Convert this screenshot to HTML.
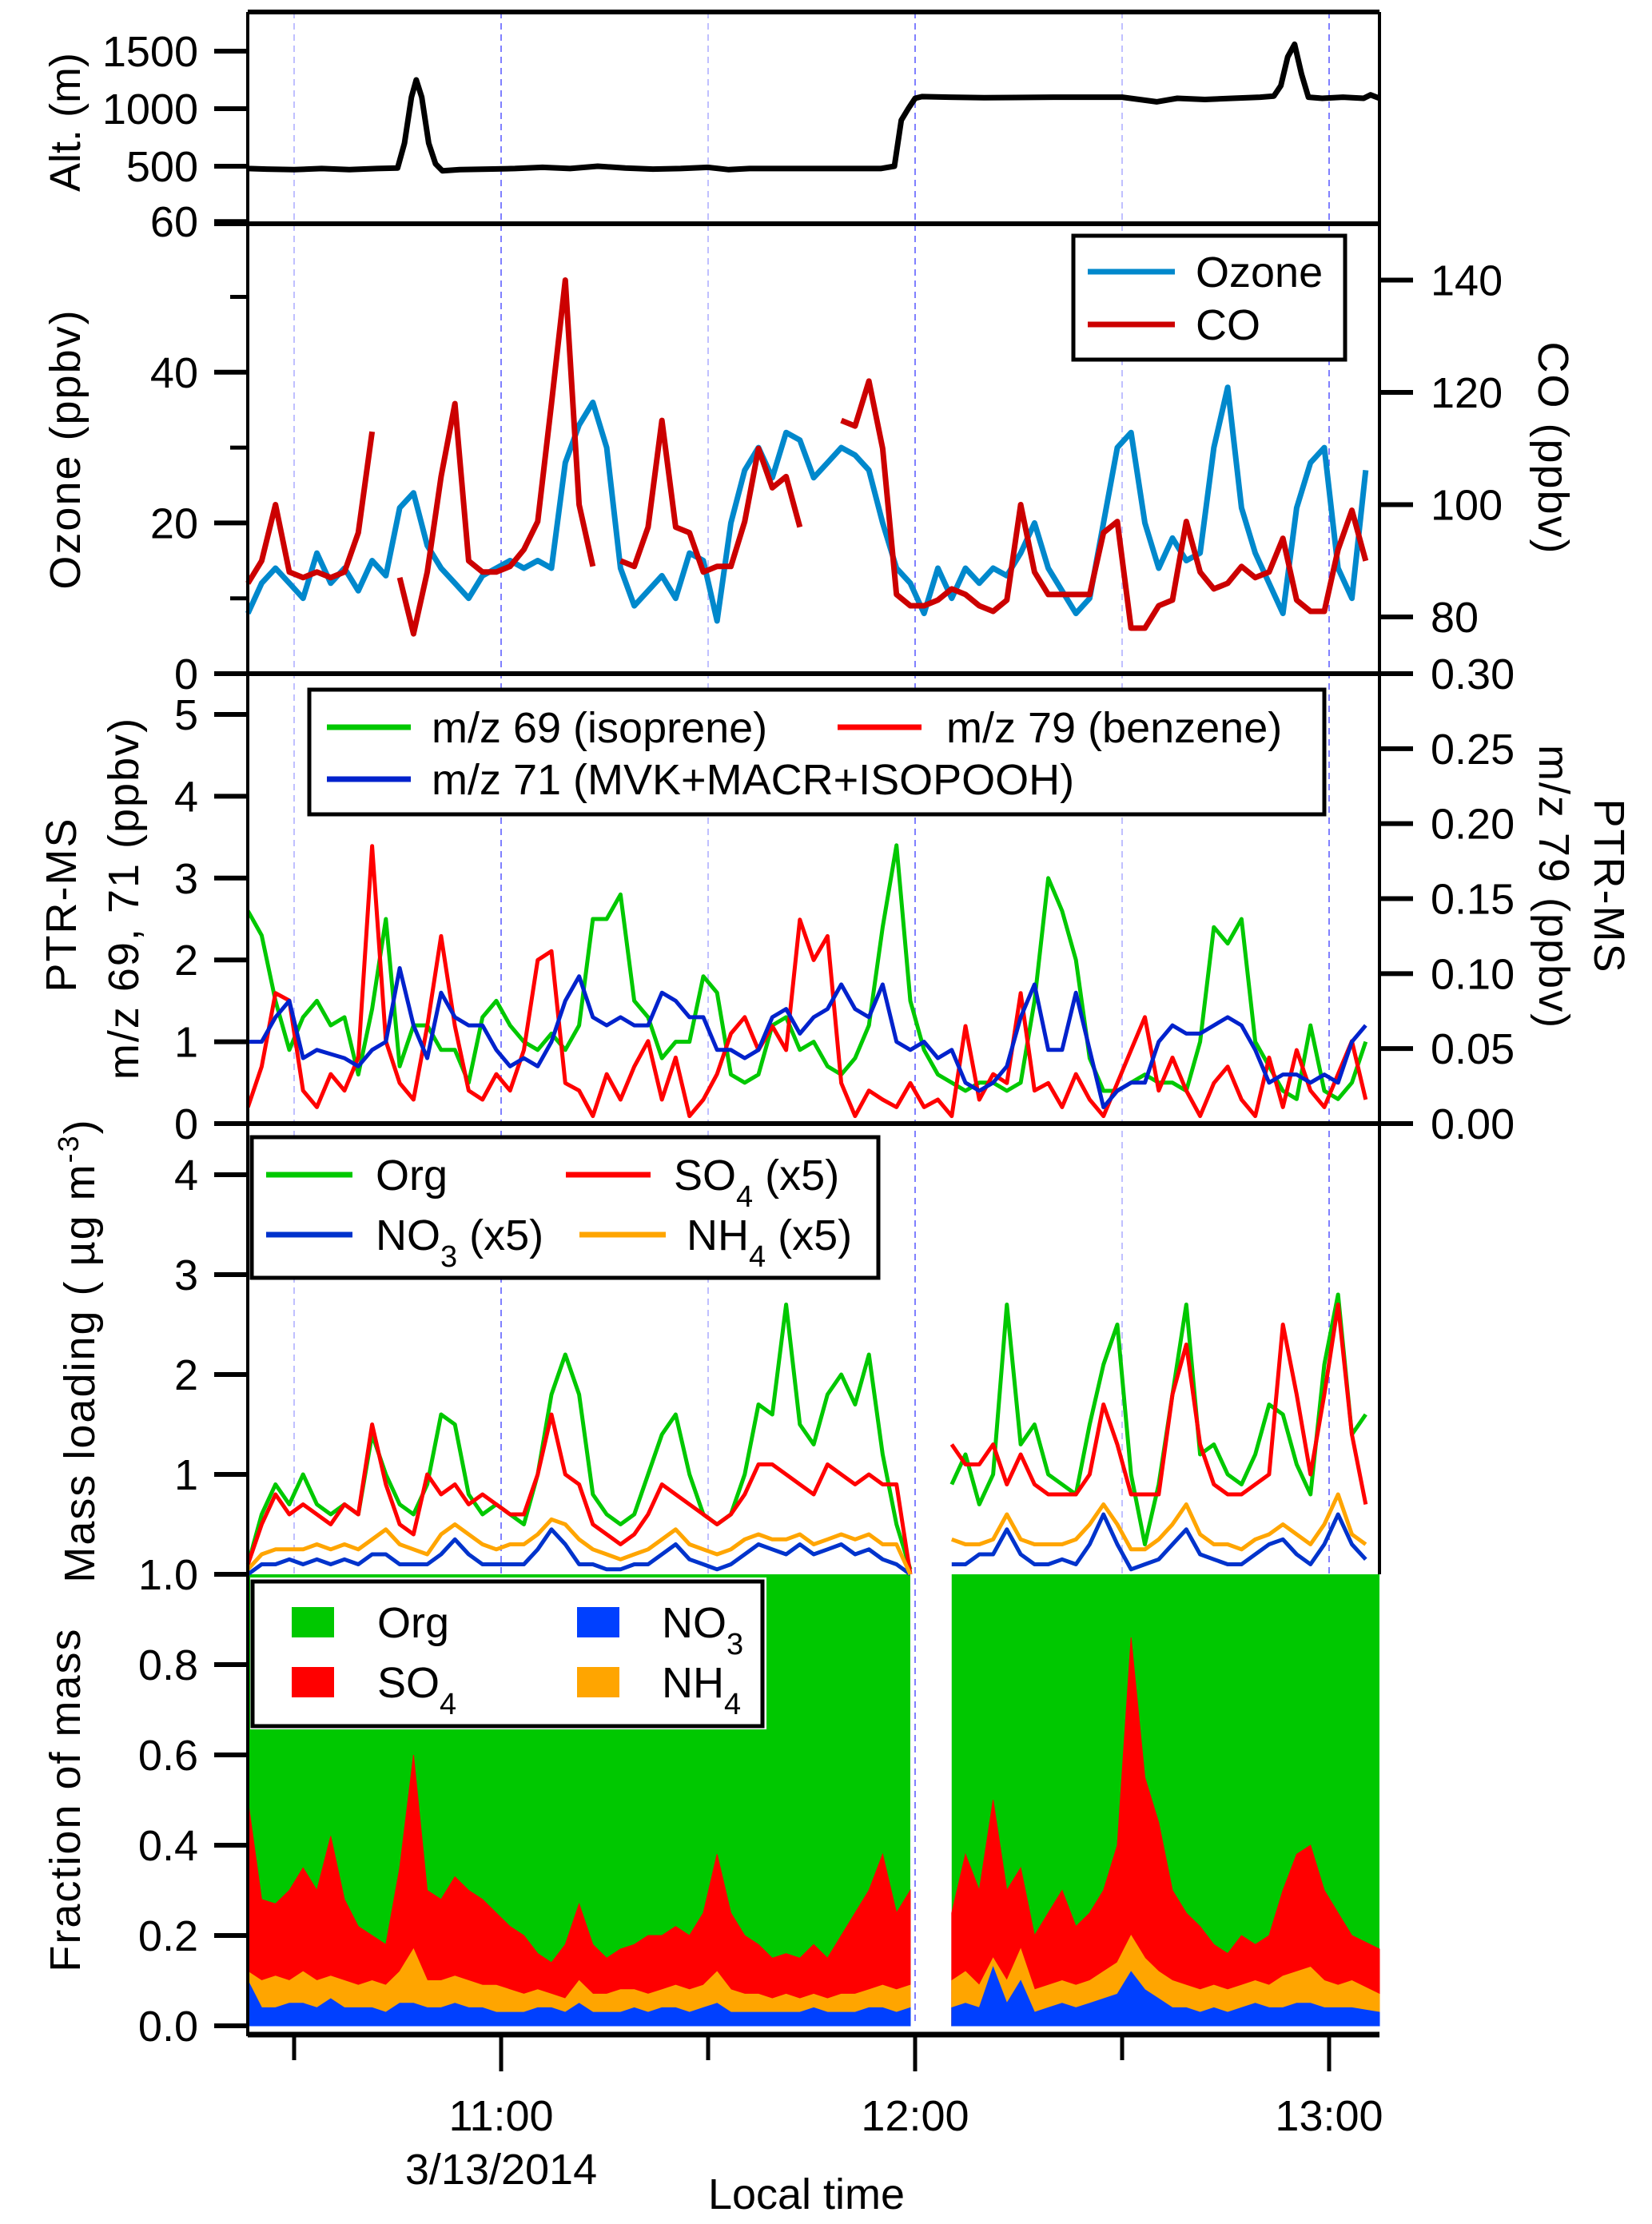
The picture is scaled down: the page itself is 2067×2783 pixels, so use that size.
<!DOCTYPE html>
<html><head><meta charset="utf-8"><style>
html,body{margin:0;padding:0;background:#fff;}
svg{display:block;font-family:"Liberation Sans",Arial,sans-serif;}
</style></head><body>
<svg id="chart" width="2067" height="2783" viewBox="0 0 2067 2783" xmlns="http://www.w3.org/2000/svg">
<rect x="0" y="0" width="2067" height="2783" fill="#fff"/>
<g id="grid"></g>
<g id="marks"></g>
<g id="axes"></g>
<g id="titles" font-size="54" fill="#000">
  <text transform="translate(100,153) rotate(-90)" text-anchor="middle">Alt. (m)</text>
  <text transform="translate(100,562) rotate(-90)" text-anchor="middle" letter-spacing="2">Ozone (ppbv)</text>
  <text transform="translate(1925,561) rotate(90)" text-anchor="middle" letter-spacing="2">CO (ppbv)</text>
  <text transform="translate(95,1132) rotate(-90)" text-anchor="middle" letter-spacing="2">PTR-MS</text>
  <text transform="translate(173,1124) rotate(-90)" text-anchor="middle" letter-spacing="2">m/z 69, 71 (ppbv)</text>
  <text transform="translate(1995,1109) rotate(90)" text-anchor="middle" letter-spacing="2">PTR-MS</text>
  <text transform="translate(1926,1110) rotate(90)" text-anchor="middle" letter-spacing="2">m/z 79 (ppbv)</text>
  <text transform="translate(118,1690) rotate(-90)" text-anchor="middle" letter-spacing="2">Mass loading ( µg m<tspan baseline-shift="super" font-size="36">-3</tspan>)</text>
  <text transform="translate(100,2252) rotate(-90)" text-anchor="middle" letter-spacing="2">Fraction of mass</text>
  <text x="627" y="2733" text-anchor="middle">3/13/2014</text>
  <text x="1009" y="2764" text-anchor="middle">Local time</text>
</g>
<g id="legends" font-size="54" fill="#000">
  <g>
    <rect x="1343" y="295" width="340" height="155" fill="#fff" stroke="#000" stroke-width="5"/>
    <line x1="1361" y1="340" x2="1470" y2="340" stroke="#0088cc" stroke-width="7"/>
    <text x="1496" y="359">Ozone</text>
    <line x1="1361" y1="406" x2="1470" y2="406" stroke="#cc0000" stroke-width="7"/>
    <text x="1496" y="425">CO</text>
  </g>
  <g>
    <rect x="387" y="863" width="1270" height="156" fill="#fff" stroke="#000" stroke-width="5"/>
    <line x1="409" y1="910" x2="514" y2="910" stroke="#00c800" stroke-width="7"/>
    <text x="540" y="929">m/z 69 (isoprene)</text>
    <line x1="1048" y1="910" x2="1153" y2="910" stroke="#ff0000" stroke-width="7"/>
    <text x="1184" y="929">m/z 79 (benzene)</text>
    <line x1="409" y1="975" x2="514" y2="975" stroke="#0022cc" stroke-width="7"/>
    <text x="540" y="994">m/z 71 (MVK+MACR+ISOPOOH)</text>
  </g>
  <g>
    <rect x="315" y="1423" width="784" height="176" fill="#fff" stroke="#000" stroke-width="5"/>
    <line x1="333" y1="1470" x2="441" y2="1470" stroke="#00c800" stroke-width="7"/>
    <text x="470" y="1489">Org</text>
    <line x1="708" y1="1470" x2="814" y2="1470" stroke="#ff0000" stroke-width="7"/>
    <text x="843" y="1489">SO<tspan baseline-shift="sub" font-size="38">4</tspan> (x5)</text>
    <line x1="333" y1="1545" x2="441" y2="1545" stroke="#0033cc" stroke-width="7"/>
    <text x="470" y="1564">NO<tspan baseline-shift="sub" font-size="38">3</tspan> (x5)</text>
    <line x1="725" y1="1545" x2="833" y2="1545" stroke="#ffa500" stroke-width="7"/>
    <text x="859" y="1564">NH<tspan baseline-shift="sub" font-size="38">4</tspan> (x5)</text>
  </g>
</g>
<g id="fraclegend" font-size="54" fill="#000">
  <g>
    <rect x="313" y="1974" width="646" height="190" fill="#fff"/>
    <rect x="316" y="1979" width="638" height="181" fill="#fff" stroke="#000" stroke-width="5"/>
    <rect x="365" y="2011" width="53" height="38" fill="#00c800"/>
    <text x="472" y="2049">Org</text>
    <rect x="722" y="2011" width="53" height="38" fill="#0040ff"/>
    <text x="828" y="2049">NO<tspan baseline-shift="sub" font-size="38">3</tspan></text>
    <rect x="365" y="2086" width="53" height="38" fill="#ff0000"/>
    <text x="472" y="2124">SO<tspan baseline-shift="sub" font-size="38">4</tspan></text>
    <rect x="722" y="2086" width="53" height="38" fill="#ffa500"/>
    <text x="828" y="2124">NH<tspan baseline-shift="sub" font-size="38">4</tspan></text>
  </g>
</g>
</svg>
<script>
// ---- data (minutes relative to 11:00 local time) ----
const altTimes = [-36.7,-34,-30,-26,-22,-18,-15,-14,-13,-12.3,-11.5,-10.5,-9.5,-8.5,-6,-2,2,6,10,14,18,22,26,30,33,36,40,45,50,55,57,58,59,60,61,65,70,80,90,95,98,102,106,110,112,113,114,115,116,117,119,122,125,126,127.3];
const altValues = [480,475,470,480,470,480,485,700,1100,1250,1100,700,520,460,470,475,480,490,480,500,485,475,480,490,470,480,480,480,480,480,500,900,1000,1090,1105,1100,1095,1100,1100,1060,1090,1080,1090,1100,1110,1200,1450,1560,1300,1100,1090,1100,1090,1120,1090];

const seriesStart = -36.7;
const seriesStep = 2;

const ozone = [8,12,14,12,10,16,12,14,11,15,13,22,24,17,14,12,10,13,14,15,14,15,14,28,33,36,30,14,9,11,13,10,16,15,7,20,27,30,26,32,31,26,28,30,29,27,20,14,12,8,14,10,14,12,14,13,16,20,14,11,8,10,20,30,32,20,14,18,15,16,30,38,22,16,12,8,22,28,30,14,10,27];
const co = [86,90,100,88,87,88,87,88,95,113,null,87,77,88,105,118,90,88,88,89,92,97,118,140,100,89,null,90,89,96,115,96,95,88,89,89,97,110,103,105,96,null,null,115,114,122,110,84,82,82,83,85,84,82,81,83,100,88,84,84,84,84,95,97,78,78,82,83,97,88,85,86,89,87,88,94,83,81,81,92,99,90];

const isoprene = [2.6,2.3,1.5,0.9,1.3,1.5,1.2,1.3,0.6,1.4,2.5,0.7,1.2,1.2,0.9,0.9,0.5,1.3,1.5,1.2,1.0,0.9,1.1,0.9,1.2,2.5,2.5,2.8,1.5,1.3,0.8,1.0,1.0,1.8,1.6,0.6,0.5,0.6,1.2,1.3,0.9,1.0,0.7,0.6,0.8,1.2,2.4,3.4,1.5,0.9,0.6,0.5,0.4,0.5,0.5,0.4,0.5,1.5,3.0,2.6,2.0,0.8,0.4,0.4,0.5,0.6,0.5,0.5,0.4,1.0,2.4,2.2,2.5,1.0,0.7,0.4,0.3,1.2,0.4,0.3,0.5,1.0];
const mvkMacr = [1.0,1.0,1.3,1.5,0.8,0.9,0.85,0.8,0.7,0.9,1.0,1.9,1.2,0.8,1.6,1.3,1.2,1.2,0.9,0.7,0.8,0.7,1.0,1.5,1.8,1.3,1.2,1.3,1.2,1.2,1.6,1.5,1.3,1.3,0.9,0.9,0.8,0.9,1.3,1.4,1.1,1.3,1.4,1.7,1.4,1.3,1.7,1.0,0.9,1.0,0.8,0.9,0.5,0.4,0.5,0.7,1.3,1.7,0.9,0.9,1.6,0.9,0.2,0.4,0.5,0.5,1.0,1.2,1.1,1.1,1.2,1.3,1.2,0.9,0.5,0.6,0.6,0.5,0.6,0.5,1.0,1.2];
const benzene = [0.011,0.038,0.087,0.082,0.022,0.011,0.033,0.022,0.044,0.185,0.055,0.027,0.016,0.065,0.125,0.065,0.022,0.016,0.033,0.022,0.049,0.109,0.115,0.027,0.022,0.005,0.033,0.016,0.038,0.055,0.016,0.044,0.005,0.016,0.033,0.060,0.071,0.049,0.065,0.049,0.136,0.109,0.125,0.027,0.005,0.022,0.016,0.011,0.027,0.011,0.016,0.005,0.065,0.016,0.033,0.027,0.087,0.022,0.027,0.011,0.033,0.016,0.005,0.027,0.049,0.071,0.022,0.044,0.022,0.005,0.027,0.038,0.016,0.005,0.044,0.011,0.049,0.022,0.011,0.033,0.055,0.016];

const orgMass = [0.1,0.6,0.9,0.7,1.0,0.7,0.6,0.7,0.6,1.4,1.0,0.7,0.6,0.9,1.6,1.5,0.8,0.6,0.7,0.6,0.5,1.0,1.8,2.2,1.8,0.8,0.6,0.5,0.6,1.0,1.4,1.6,1.0,0.6,0.5,0.6,1.0,1.7,1.6,2.7,1.5,1.3,1.8,2.0,1.7,2.2,1.2,0.5,0.05,null,null,0.9,1.2,0.7,1.0,2.7,1.3,1.5,1.0,0.9,0.8,1.5,2.1,2.5,1.0,0.3,0.9,1.8,2.7,1.2,1.3,1.0,0.9,1.2,1.7,1.6,1.1,0.8,2.1,2.8,1.4,1.6];
const so4Mass = [0.1,0.5,0.8,0.6,0.7,0.6,0.5,0.7,0.6,1.5,0.9,0.5,0.4,1.0,0.8,0.9,0.7,0.8,0.7,0.6,0.6,1.0,1.6,1.0,0.9,0.5,0.4,0.3,0.4,0.6,0.9,0.8,0.7,0.6,0.5,0.6,0.8,1.1,1.1,1.0,0.9,0.8,1.1,1.0,0.9,1.0,0.9,0.9,0.0,null,null,1.3,1.1,1.1,1.3,0.9,1.2,0.9,0.8,0.8,0.8,1.0,1.7,1.3,0.8,0.8,0.8,1.8,2.3,1.3,0.9,0.8,0.8,0.9,1.0,2.5,1.8,1.0,1.8,2.7,1.4,0.7];
const nh4Mass = [0.05,0.2,0.25,0.25,0.25,0.3,0.25,0.3,0.25,0.35,0.45,0.3,0.25,0.2,0.4,0.5,0.4,0.3,0.25,0.3,0.3,0.4,0.55,0.5,0.35,0.25,0.2,0.15,0.2,0.25,0.35,0.45,0.3,0.25,0.2,0.25,0.35,0.4,0.35,0.35,0.4,0.3,0.35,0.4,0.35,0.4,0.3,0.3,0.0,null,null,0.35,0.3,0.3,0.35,0.6,0.35,0.3,0.3,0.3,0.35,0.5,0.7,0.5,0.25,0.25,0.35,0.5,0.7,0.4,0.3,0.3,0.25,0.35,0.4,0.5,0.4,0.3,0.5,0.8,0.4,0.3];
const no3Mass = [0.0,0.1,0.1,0.15,0.1,0.15,0.1,0.15,0.1,0.2,0.2,0.1,0.1,0.1,0.2,0.35,0.2,0.1,0.1,0.1,0.1,0.25,0.45,0.3,0.1,0.1,0.05,0.05,0.1,0.1,0.2,0.3,0.15,0.1,0.05,0.1,0.2,0.3,0.25,0.2,0.3,0.2,0.25,0.3,0.2,0.25,0.15,0.1,0.0,null,null,0.1,0.1,0.2,0.2,0.45,0.2,0.1,0.1,0.15,0.1,0.3,0.6,0.3,0.05,0.1,0.15,0.3,0.45,0.2,0.15,0.1,0.1,0.2,0.3,0.35,0.2,0.1,0.3,0.6,0.3,0.15];

// cumulative fractions of mass (stacked tops): NO3, NO3+NH4, NO3+NH4+SO4 (Org fills the rest to 1)
const cumNO3 = [0.1,0.04,0.04,0.05,0.05,0.04,0.06,0.04,0.04,0.04,0.03,0.05,0.05,0.04,0.04,0.05,0.04,0.04,0.03,0.03,0.03,0.04,0.04,0.03,0.05,0.03,0.03,0.03,0.04,0.03,0.04,0.04,0.03,0.04,0.05,0.03,0.03,0.03,0.03,0.03,0.03,0.04,0.03,0.03,0.03,0.04,0.04,0.03,0.04,null,null,0.04,0.05,0.04,0.13,0.05,0.1,0.03,0.04,0.05,0.04,0.05,0.06,0.07,0.12,0.08,0.06,0.04,0.04,0.03,0.04,0.03,0.04,0.05,0.04,0.04,0.05,0.05,0.04,0.04,0.04,0.03];
const cumNH4 = [0.12,0.1,0.11,0.1,0.12,0.1,0.11,0.1,0.09,0.1,0.09,0.12,0.17,0.1,0.1,0.11,0.1,0.09,0.09,0.08,0.07,0.08,0.07,0.06,0.1,0.07,0.07,0.08,0.08,0.07,0.08,0.09,0.08,0.09,0.12,0.08,0.07,0.07,0.06,0.07,0.06,0.07,0.06,0.07,0.07,0.08,0.09,0.08,0.09,null,null,0.1,0.12,0.09,0.15,0.1,0.17,0.08,0.09,0.1,0.09,0.1,0.12,0.14,0.2,0.15,0.12,0.1,0.09,0.08,0.09,0.08,0.09,0.1,0.09,0.11,0.12,0.13,0.1,0.09,0.1,0.07];
const cumSO4 = [0.5,0.28,0.27,0.3,0.35,0.3,0.42,0.28,0.22,0.2,0.18,0.35,0.6,0.3,0.28,0.33,0.3,0.28,0.25,0.22,0.2,0.16,0.14,0.18,0.27,0.18,0.15,0.17,0.18,0.2,0.2,0.22,0.2,0.25,0.38,0.25,0.2,0.18,0.15,0.16,0.15,0.18,0.15,0.2,0.25,0.3,0.38,0.25,0.3,null,null,0.25,0.38,0.3,0.5,0.3,0.35,0.2,0.25,0.3,0.22,0.25,0.3,0.4,0.86,0.55,0.45,0.3,0.25,0.22,0.18,0.16,0.2,0.18,0.2,0.3,0.38,0.4,0.3,0.25,0.2,0.17];

const yTicksAlt = [500,1000,1500];
const yTicksOzone = [0,20,40,60];
const yMinorOzone = [10,30,50];
const yTicksCO = [80,100,120,140];
const yTicksPTR = [0,1,2,3,4,5];
const yTicksBenz = [0,0.05,0.10,0.15,0.20,0.25,0.30];
const yTicksMass = [1,2,3,4];
const yTicksFrac = [0,0.2,0.4,0.6,0.8,1.0];
const majorTimes = [0,60,120];
const majorTimeLabels = ["11:00","12:00","13:00"];
const minorTimes = [-30,30,90];

// ---- scales ----
const L = 310, R = 1726;
const X = t => 627 + t * 259 / 30;
const Ya = m => 280 - m * 0.144;
const Yo = v => 843 - v * 9.43;
const Yc = v => 772 - (v - 80) * 7.025;
const Yp = v => 1406 - v * 102.4;
const Yb = v => 1406 - v * (563 / 0.30);
const Ym = v => 1970 - v * 125;
const Yf = v => 2535 - v * 565;
const timesFor = arr => arr.map((_, i) => seriesStart + i * seriesStep);

const NS = "http://www.w3.org/2000/svg";
function mk(tag, attrs, parent) {
  const el = document.createElementNS(NS, tag);
  for (const k in attrs) el.setAttribute(k, attrs[k]);
  parent.appendChild(el);
  return el;
}
const gGrid = document.getElementById('grid');
const gMarks = document.getElementById('marks');
const gAxes = document.getElementById('axes');

// gridlines
[-30,0,30,60,90,120].forEach(t => {
  const major = majorTimes.indexOf(t) >= 0;
  const ln = mk('line', {x1:X(t), x2:X(t), y1:15, y2:2535, stroke: major ? '#8080ff' : '#c0c0ff', 'stroke-width':2, 'stroke-dasharray':'8,6'}, gGrid);
  
  
});

function pathFrom(times, vals, yf) {
  let d = '', pen = false;
  vals.forEach((v, i) => {
    if (v === null) { pen = false; return; }
    d += (pen ? 'L' : 'M') + X(times[i]).toFixed(1) + ',' + yf(v).toFixed(1);
    pen = true;
  });
  return d;
}
function drawLine(times, vals, yf, color, w, name) {
  const p = mk('path', {d: pathFrom(times, vals, yf), fill:'none', stroke:color, 'stroke-width':w, 'stroke-linejoin':'round'}, gMarks);
  
  
  return p;
}

// fraction panel stacked areas
function segments(arr) {
  const segs = []; let cur = null;
  arr.forEach((v, i) => {
    if (v === null) { if (cur) { segs.push(cur); cur = null; } }
    else { if (!cur) cur = [i, i]; else cur[1] = i; }
  });
  if (cur) segs.push(cur);
  return segs;
}
const ft = timesFor(cumSO4);
const xAt = (i, n) => (i === n - 1 ? R : X(ft[i]));
segments(cumSO4).forEach(([a, b]) => {
  const n = cumSO4.length;
  const x0 = xAt(a, n), x1 = xAt(b, n);
  const org = mk('rect', {x:x0, y:Yf(1), width:x1 - x0, height:Yf(0) - Yf(1), fill:'#00c800'}, gMarks);
  
  
  [[cumSO4, '#ff0000', 'so4-fraction-area'], [cumNH4, '#ffa500', 'nh4-fraction-area'], [cumNO3, '#0040ff', 'no3-fraction-area']].forEach(([arr, col, nm]) => {
    let d = 'M' + x0 + ',' + Yf(0);
    for (let i = a; i <= b; i++) d += 'L' + xAt(i, n).toFixed(1) + ',' + Yf(arr[i]).toFixed(1);
    d += 'L' + x1 + ',' + Yf(0) + 'Z';
    const p = mk('path', {d: d, fill: col, stroke: col, 'stroke-width': 1}, gMarks);
    
    
  });
});

// lines
drawLine(altTimes, altValues, Ya, '#000', 7, 'altitude-line');
drawLine(timesFor(ozone), ozone, Yo, '#0088cc', 7, 'ozone-line');
drawLine(timesFor(co), co, Yc, '#cc0000', 7, 'co-line');
drawLine(timesFor(isoprene), isoprene, Yp, '#00c800', 5, 'isoprene-line');
drawLine(timesFor(benzene), benzene, Yb, '#ff0000', 5, 'benzene-line');
drawLine(timesFor(mvkMacr), mvkMacr, Yp, '#0022cc', 5, 'mvk-macr-line');
drawLine(timesFor(orgMass), orgMass, Ym, '#00c800', 5, 'org-mass-line');
drawLine(timesFor(so4Mass), so4Mass, Ym, '#ff0000', 5, 'so4-mass-line');
drawLine(timesFor(no3Mass), no3Mass, Ym, '#0033cc', 5, 'no3-mass-line');
drawLine(timesFor(nh4Mass), nh4Mass, Ym, '#ffa500', 5, 'nh4-mass-line');

// axes frame
function axLine(x1, y1, x2, y2, w, name) {
  const l = mk('line', {x1:x1, y1:y1, x2:x2, y2:y2, stroke:'#000', 'stroke-width':w}, gAxes);
  
  
}
axLine(L, 15, R, 15, 6, 'top-frame-line');
axLine(L, 15, L, 2548, 4, 'left-axis-line');
axLine(R, 15, R, 1970, 4, 'right-axis-line');
axLine(268, 280, R, 280, 6, 'altitude-panel-bottom');
axLine(268, 843, 1768, 843, 6, 'ozone-panel-bottom');
axLine(268, 1406, 1768, 1406, 6, 'ptr-panel-bottom');
axLine(L, 2546, R, 2546, 7, 'time-axis-line');

function label(x, y, txt, anchor, name) {
  const t = mk('text', {x:x, y:y, 'text-anchor':anchor, 'font-size':54}, gAxes);
  t.textContent = txt;
  
  
}
function leftTicks(vals, yf, fmt, name) {
  vals.forEach(v => {
    axLine(268, yf(v), L, yf(v), 6, name + '-tick');
    label(248, yf(v) + 19, fmt(v), 'end', name + '-tick-label');
  });
}
function rightTicks(vals, yf, fmt, name) {
  vals.forEach(v => {
    axLine(R, yf(v), 1768, yf(v), 6, name + '-tick');
    label(1790, yf(v) + 19, fmt(v), 'start', name + '-tick-label');
  });
}
leftTicks(yTicksAlt, Ya, v => String(v), 'altitude');
leftTicks(yTicksOzone, Yo, v => String(v), 'ozone');
yMinorOzone.forEach(v => axLine(288, Yo(v), L, Yo(v), 5, 'ozone-minor-tick'));
rightTicks(yTicksCO, Yc, v => String(v), 'co');
leftTicks(yTicksPTR, Yp, v => String(v), 'ptr');
rightTicks(yTicksBenz, Yb, v => v.toFixed(2), 'benzene');
leftTicks(yTicksMass, Ym, v => String(v), 'mass');
leftTicks(yTicksFrac, Yf, v => v.toFixed(1), 'fraction');
majorTimes.forEach((t, i) => {
  axLine(X(t), 2546, X(t), 2592, 5, 'time-major-tick');
  label(X(t), 2666, majorTimeLabels[i], 'middle', 'time-tick-label');
});
minorTimes.forEach(t => axLine(X(t), 2546, X(t), 2578, 5, 'time-minor-tick'));

// legends on top
const svg = document.getElementById('chart');
svg.appendChild(document.getElementById('legends'));
svg.appendChild(document.getElementById('fraclegend'));
svg.appendChild(document.getElementById('titles'));
</script>
</body></html>
